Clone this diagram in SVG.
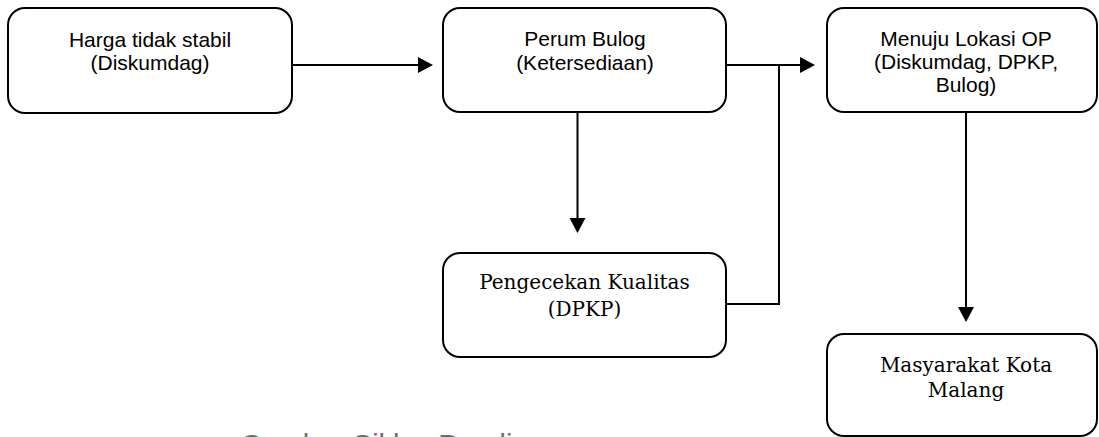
<svg xmlns="http://www.w3.org/2000/svg" width="1099" height="437" viewBox="0 0 1099 437">
  <style>
    .box { fill: #ffffff; stroke: #000000; stroke-width: 2; }
    .sans { font-family: "Liberation Sans", Arial, sans-serif; font-size: 21px; fill: #000000; text-anchor: middle; }
    .serif { font-family: "DejaVu Serif", "Liberation Serif", serif; font-size: 20px; fill: #000000; text-anchor: middle; }
    .conn { fill: none; stroke: #000000; stroke-width: 2; }
    .caption { font-family: "Liberation Sans", Arial, sans-serif; font-size: 29px; fill: #6e6e6e; }
  </style>
  <defs>
    <marker id="arr" markerUnits="userSpaceOnUse" markerWidth="16" markerHeight="18" refX="13" refY="8" orient="auto">
      <path d="M0,0 L15,8 L0,16 Z" fill="#000000"/>
    </marker>
  </defs>
  <rect width="1099" height="437" fill="#ffffff"/>

  <g id="connectors">
    <line class="conn" x1="292" y1="65" x2="431" y2="65" marker-end="url(#arr)"/>
    <line class="conn" x1="726" y1="65" x2="813" y2="65" marker-end="url(#arr)"/>
    <polyline class="conn" points="726,304 779,304 779,65"/>
    <line class="conn" x1="577.5" y1="112" x2="577.5" y2="231" marker-end="url(#arr)"/>
    <line class="conn" x1="966" y1="112" x2="966" y2="320" marker-end="url(#arr)"/>
  </g>

  <g id="node-harga">
    <rect class="box" x="8" y="8" width="284" height="105" rx="17"/>
    <text class="sans" x="150" y="47">Harga tidak stabil</text>
    <text class="sans" x="150" y="70">(Diskumdag)</text>
  </g>

  <g id="node-bulog">
    <rect class="box" x="443" y="8" width="283" height="104" rx="17"/>
    <text class="sans" x="585" y="46">Perum Bulog</text>
    <text class="sans" x="585" y="70">(Ketersediaan)</text>
  </g>

  <g id="node-lokasi">
    <rect class="box" x="827" y="8" width="270" height="104" rx="17"/>
    <text class="sans" x="966" y="46">Menuju Lokasi OP</text>
    <text class="sans" x="966" y="69">(Diskumdag, DPKP,</text>
    <text class="sans" x="966" y="92">Bulog)</text>
  </g>

  <g id="node-pengecekan">
    <rect class="box" x="443" y="253" width="283" height="104" rx="17"/>
    <text class="serif" x="584.5" y="289">Pengecekan Kualitas</text>
    <text class="serif" x="584.5" y="316">(DPKP)</text>
  </g>

  <g id="node-masyarakat">
    <rect class="box" x="827" y="334" width="270" height="102" rx="17"/>
    <text class="serif" x="966" y="372">Masyarakat Kota</text>
    <text class="serif" x="966" y="397">Malang</text>
  </g>

  <text class="caption" x="240" y="455">Gambar Siklus Pendi</text>
</svg>
